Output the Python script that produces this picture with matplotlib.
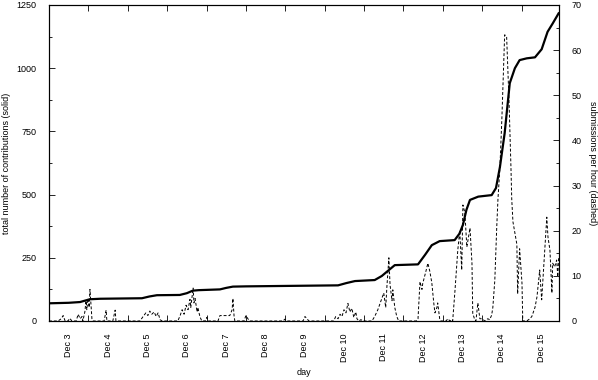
import matplotlib
matplotlib.use("Agg")
import matplotlib.pyplot as plt
import numpy as np

plt.rcParams['font.family'] = ['Liberation Sans', 'DejaVu Sans']

# cumulative contributions (solid): day since Dec 3 00:00, count
total_day = [0.00, 0.50, 0.79, 0.90, 1.04, 1.30, 2.36, 2.55, 2.74, 3.32, 3.50, 3.65, 3.80,
             4.34, 4.50, 4.67, 5.00, 7.34, 7.55, 7.77, 8.27, 8.45, 8.58, 8.78, 9.37, 9.55,
             9.72, 9.92, 10.30, 10.42, 10.51, 10.60, 10.69, 10.90, 11.24, 11.35, 11.45,
             11.57, 11.70, 11.83, 11.95, 12.13, 12.34, 12.51, 12.66, 12.79, 12.94]
total_val = [70, 72, 75, 80, 86, 88, 90, 97, 102, 103, 110, 120, 122,
             125, 131, 136, 137, 141, 150, 158, 162, 178, 195, 221, 224, 262,
             300, 316, 320, 345, 380, 440, 479, 492, 498, 526, 609,
             743, 941, 1000, 1032, 1039, 1043, 1075, 1144, 1177, 1217]

# submissions per hour (dashed)
rate_day = [0.00, 0.23, 0.31, 0.36, 0.41, 0.48, 0.53, 0.58, 0.69, 0.74, 0.79, 0.84, 0.86,
            0.91, 0.94, 0.96, 0.99, 1.02, 1.04, 1.07, 1.09, 1.12, 1.40, 1.45, 1.47, 1.62,
            1.68, 1.70, 2.31, 2.39, 2.46, 2.51, 2.56, 2.61, 2.67, 2.72, 2.77, 2.82, 2.87,
            3.27, 3.33, 3.38, 3.43, 3.48, 3.53, 3.58, 3.60, 3.66, 3.68, 3.71, 3.76, 3.78,
            3.83, 3.88, 3.96, 4.01, 4.04, 4.29, 4.34, 4.59, 4.65, 4.67, 4.70, 4.72, 4.95,
            5.00, 5.05, 5.10, 5.94, 5.99, 6.04, 6.45, 6.50, 6.55, 6.60, 7.23, 7.28, 7.34,
            7.39, 7.44, 7.49, 7.54, 7.59, 7.64, 7.69, 7.74, 7.79, 7.82, 7.87, 7.92, 7.97,
            8.20, 8.27, 8.35, 8.43, 8.50, 8.55, 8.58, 8.63, 8.66, 8.71, 8.73, 8.78, 8.83,
            8.88, 9.32, 9.37, 9.42, 9.47, 9.49, 9.57, 9.62, 9.67, 9.72, 9.77, 9.80, 9.85,
            9.87, 9.92, 9.95, 10.08, 10.13, 10.18, 10.23, 10.25, 10.31, 10.38, 10.43, 10.48,
            10.51, 10.56, 10.61, 10.69, 10.74, 10.76, 10.81, 10.84, 10.89, 10.94, 10.99,
            11.07, 11.14, 11.19, 11.24, 11.27, 11.32, 11.37, 11.40, 11.45, 11.50, 11.57,
            11.62, 11.68, 11.73, 11.75, 11.78, 11.88, 11.90, 11.95, 12.01, 12.03, 12.13,
            12.21, 12.26, 12.34, 12.39, 12.46, 12.51, 12.54, 12.64, 12.67, 12.72, 12.77,
            12.79, 12.84, 12.89, 12.92, 12.94]
rate_val = [0, 0, 0.5, 1.2, 0, 0, 0.6, 0, 0, 1.5, 0.5, 1, 0,
            2, 4.5, 2.5, 5, 3, 7, 3, 0.5, 0, 0, 2.4, 0, 0,
            2.4, 0, 0, 1, 1.8, 1.2, 2.2, 1.5, 2, 1, 1.8, 0.3, 0,
            0, 1.2, 2.5, 1.5, 3.5, 2.5, 4.8, 3, 7.3, 4, 5, 2, 3,
            1, 0, 0, 0.8, 0, 0, 1.2, 1.2, 2.5, 5, 1, 0, 0,
            1.2, 0.5, 0, 0, 0.4, 0, 0, 1, 0.5, 0, 0, 1, 0.5,
            1.5, 1, 2.5, 1.8, 3.9, 2, 2.8, 0.8, 2, 0.5, 0, 0.3, 0,
            0, 1, 2.5, 4.5, 6.2, 3, 7.6, 14, 8, 4.5, 6.9, 3, 1,
            0, 0, 0.5, 8.7, 7, 8.3, 11, 12.8, 11, 8.5, 4, 1.8, 3,
            4, 0.5, 0, 0, 0.5, 0, 0.3, 0, 6.9, 15.7, 20, 11.3,
            25.7, 24, 16.4, 20.6, 12.8, 1.7, 0.3, 0, 4, 0.5, 0.5,
            0, 0.5, 0.3, 1.3, 3, 9, 21, 27, 34, 45, 63.4,
            63, 49, 34, 27, 22, 17, 6, 16, 8.4, 0, 0,
            0.5, 1, 3, 5.3, 11.3, 4.7, 9, 23, 18.6, 15.7, 6.2,
            12.8, 12, 13.5, 9.8, 14]

day_labels = ["Dec 3", "Dec 4", "Dec 5", "Dec 6", "Dec 7", "Dec 8", "Dec 9",
              "Dec 10", "Dec 11", "Dec 12", "Dec 13", "Dec 14", "Dec 15"]

fig = plt.figure(figsize=(5.98, 3.80), dpi=100)
ax = fig.add_axes([49/598, 1-321/380, (559-49)/598, (321-5)/380])
ax2 = ax.twinx()

fs = 6.5
ax.plot(total_day, total_val, color='black', lw=1.6, solid_joinstyle='round', zorder=3)
ax2.plot(rate_day, rate_val, color='black', lw=0.7, dashes=(3, 2))

ax.set_xlim(0, 12.95)
ax.set_ylim(0, 1250)
ax2.set_ylim(0, 70)

ax.set_yticks(np.arange(0, 1251, 250))
ax.set_yticks(np.arange(0, 1251, 125), minor=True)
ax2.set_yticks(np.arange(0, 71, 10))
ax2.set_yticks(np.arange(0, 71, 5), minor=True)

ax.set_xticks(np.arange(1, 13))
ax.set_xticklabels([])
ax.set_xticks(np.arange(len(day_labels)) + 0.5, minor=True)
ax.set_xticklabels(day_labels, minor=True, rotation=90, fontsize=fs)

ax.tick_params(axis='x', which='major', direction='in', length=4, width=0.6, top=True, bottom=True)
ax.tick_params(axis='x', which='minor', length=0, pad=9)
ax.tick_params(axis='y', which='major', direction='in', length=4, width=0.6, labelsize=fs, pad=9)
ax.tick_params(axis='y', which='minor', direction='in', length=2.5, width=0.6)
ax2.tick_params(axis='y', which='major', direction='in', length=4, width=0.6, labelsize=fs, pad=9)
ax2.tick_params(axis='y', which='minor', direction='in', length=2.5, width=0.6)

for a in (ax, ax2):
    for s in a.spines.values():
        s.set_linewidth(0.8)

ax.set_ylabel("total number of contributions (solid)", fontsize=fs, va='center')
ax.yaxis.set_label_coords(-0.083, 0.5)
ax2.set_ylabel("submissions per hour (dashed)", fontsize=fs, rotation=-90, va='center')
ax2.yaxis.set_label_coords(1.065, 0.5)
ax.set_xlabel("day", fontsize=fs, va='center')
ax.xaxis.set_label_coords(0.5, -0.162)

fig.savefig("out.png", dpi=100)
